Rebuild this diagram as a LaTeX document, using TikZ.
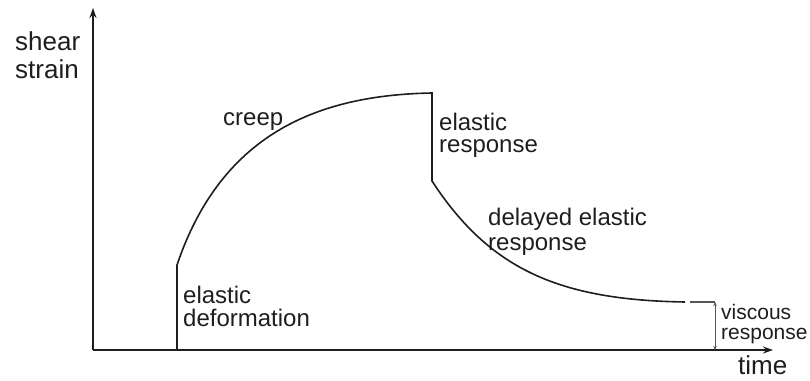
\documentclass[tikz,border=0pt]{standalone}
\usepackage{fontspec}
\setmainfont{Liberation Sans}
\usetikzlibrary{arrows.meta}
\definecolor{ink}{HTML}{1E1E1E}
\definecolor{tail}{HTML}{555555}
\tikzset{
  lbl/.style={anchor=base west, inner sep=0pt, text=ink, font=\fontsize{24}{24}\selectfont},
  axlbl/.style={lbl, font=\fontsize{26}{26}\selectfont},
  smlbl/.style={lbl, font=\fontsize{21}{21}\selectfont},
  axis/.style={draw=ink, line width=1.6pt, -{Stealth[length=10pt,width=7pt]}},
  curve/.style={draw=ink, line width=1.6pt},
  thin/.style={draw=tail, line width=0.8pt, {Stealth[length=4pt,width=3.5pt]}-{Stealth[length=4pt,width=3.5pt]}}
}
\begin{document}
\begin{tikzpicture}[x=1pt,y=-1pt]
\useasboundingbox (0,0) rectangle (810,380);
% axes
\coordinate (O) at (93,350);
\coordinate (ytop) at (93,8);
\coordinate (xend) at (773,350);
\draw[axis] (O) -- (ytop);
\draw[axis] (O) -- (xend);
% curve points
\coordinate (s0) at (177,350);
\coordinate (s1) at (177,265);
\coordinate (top) at (432,93);
\coordinate (drop) at (432,181);
\coordinate (tailend) at (685,302);
\coordinate (dashA) at (690,302);
\coordinate (dashB) at (715,302);
\coordinate (vbot) at (715,350);
\draw[curve] (s0) -- (s1) .. controls (222,132) and (320,95) .. (top) -- (drop)
  .. controls (490,270) and (560,300) .. (tailend);
\draw[draw=tail, line width=1.3pt] (dashA) -- (dashB);
\draw[thin] (dashB) -- (vbot);
% labels
\node[axlbl] (shear) at (15,50) {shear};
\node[axlbl] (strain) at (15,78) {strain};
\node[lbl] (creep) at (223,125) {creep};
\node[lbl] (er1) at (439,130) {elastic};
\node[lbl] (er2) at (439,152) {response};
\node[lbl] (de1) at (488,225) {delayed elastic};
\node[lbl] (de2) at (488,250) {response};
\node[lbl] (ed1) at (183,303) {elastic};
\node[lbl] (ed2) at (183,326) {deformation};
\node[smlbl] (vr1) at (721,319) {viscous};
\node[smlbl] (vr2) at (721,339) {response};
\node[axlbl] (time) at (738,374) {time};
\end{tikzpicture}
\end{document}
